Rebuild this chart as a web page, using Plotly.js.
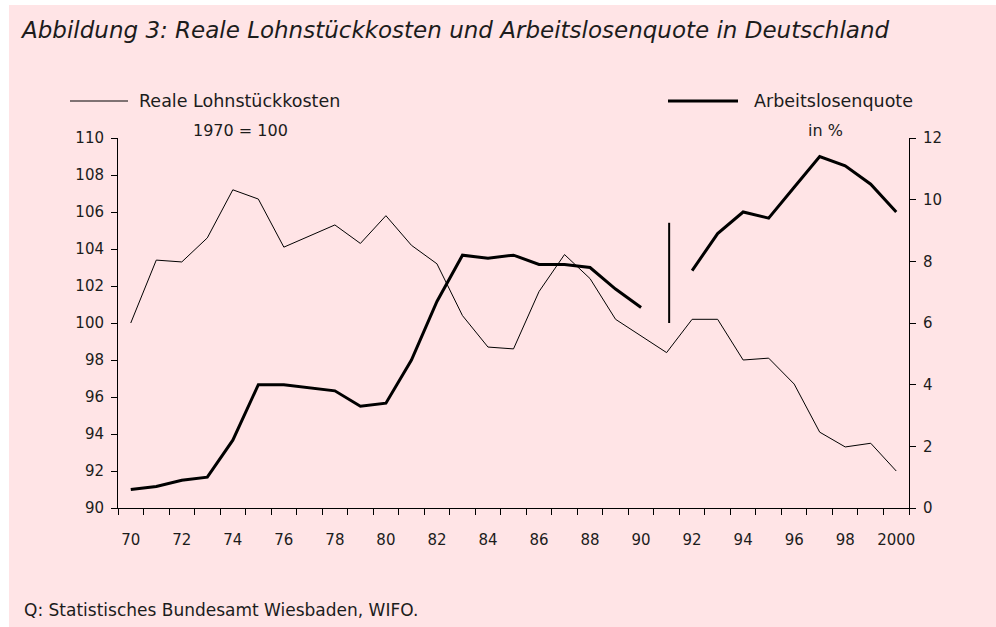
<!DOCTYPE html>
<html>
<head>
<meta charset="utf-8">
<script src="https://cdn.plot.ly/plotly-3.0.1.min.js"></script>
<style>
html,body{margin:0;padding:0;background:#ffffff;width:996px;height:627px;overflow:hidden;}
#chart{position:absolute;left:9px;top:5px;width:987px;height:622px;}
</style>
</head>
<body>
<div id="chart"></div>
<script>
// ---- data ----
const years = [1970,1971,1972,1973,1974,1975,1976,1977,1978,1979,1980,1981,1982,1983,1984,1985,1986,1987,1988,1989,1990,1991,1992,1993,1994,1995,1996,1997,1998,1999,2000];
const lohnstueckkosten = [100,103.4,103.3,104.6,107.2,106.7,104.1,104.7,105.3,104.3,105.8,104.2,103.2,100.4,98.7,98.6,101.7,103.7,102.4,100.2,99.3,98.4,100.2,100.2,98.0,98.1,96.7,94.1,93.3,93.5,92.0];
const arbeitslosenquote = [0.6,0.7,0.9,1.0,2.2,4.0,4.0,3.9,3.8,3.3,3.4,4.8,6.7,8.2,8.1,8.2,7.9,7.9,7.8,7.1,6.5,null,7.7,8.9,9.6,9.4,10.4,11.4,11.1,10.5,9.6];
// break marker (West Germany / unified Germany)
const bruchX = [1991.1,1991.1];
const bruchY = [6.0,9.25];
const xTickVals = [1970,1972,1974,1976,1978,1980,1982,1984,1986,1988,1990,1992,1994,1996,1998,2000];
const xTickText = ["70","72","74","76","78","80","82","84","86","88","90","92","94","96","98","2000"];
const xBoundaries = [1969.5,1970.5,1971.5,1972.5,1973.5,1974.5,1975.5,1976.5,1977.5,1978.5,1979.5,1980.5,1981.5,1982.5,1983.5,1984.5,1985.5,1986.5,1987.5,1988.5,1989.5,1990.5,1991.5,1992.5,1993.5,1994.5,1995.5,1996.5,1997.5,1998.5,1999.5,2000.5];

// ---- layout helpers (page pixels -> paper coords) ----
const L=118, R=909, T=138, B=508;
const px = x => (x-L)/(R-L);
const py = y => (B-y)/(B-T);
const FONT = "DejaVu Sans";
const TXT = "#1c1c1c";
const BG = "#ffe4e6";

const traces = [
  {x: years, y: lohnstueckkosten, type:'scatter', mode:'lines', line:{color:'#000', width:1}, yaxis:'y'},
  {x: years, y: arbeitslosenquote, type:'scatter', mode:'lines', line:{color:'#000', width:3}, yaxis:'y2', connectgaps:false},
  {x: bruchX, y: bruchY, type:'scatter', mode:'lines', line:{color:'#000', width:2}, yaxis:'y2'}
];

const layout = {
  width: 987, height: 622,
  paper_bgcolor: BG, plot_bgcolor: BG,
  showlegend: false,
  margin: {l: L-9, r: 996-R, t: T-5, b: 627-B, pad: 0},
  font: {family: FONT, color: TXT, size: 15},
  title: {
    text: "<i>Abbildung 3: Reale Lohnstückkosten und Arbeitslosenquote in Deutschland</i>",
    font: {family: FONT, size: 23, color: TXT},
    xref: 'container', yref: 'container',
    x: 13/987, xanchor: 'left',
    y: 1-(30-5)/622, yanchor: 'middle'
  },
  xaxis: {
    range: [1969.5, 2000.5],
    tickmode: 'array', tickvals: xTickVals, ticktext: xTickText,
    ticks: 'outside', ticklen: 0, tickcolor:'#000',
    ticklabelstandoff: 18,
    minor: {tickmode:'array', tickvals: xBoundaries, ticklen: 6, tickcolor:'#000', tickwidth:1, showgrid:false},
    showline: true, linecolor: '#000', linewidth: 1,
    showgrid: false, zeroline: false,
    tickfont: {family: FONT, size: 15, color: TXT}
  },
  yaxis: {
    range: [90, 110], dtick: 2, tick0: 90,
    ticks: 'outside', ticklen: 6, tickcolor:'#000',
    ticklabelstandoff: 4,
    showline: true, linecolor:'#000', linewidth: 1,
    showgrid: false, zeroline: false,
    tickfont: {family: FONT, size: 15, color: TXT}
  },
  yaxis2: {
    range: [0, 12], dtick: 2, tick0: 0,
    overlaying: 'y', side: 'right',
    ticks: 'outside', ticklen: 6, tickcolor:'#000',
    ticklabelstandoff: 4,
    showline: true, linecolor:'#000', linewidth: 1,
    showgrid: false, zeroline: false,
    tickfont: {family: FONT, size: 15, color: TXT}
  },
  shapes: [
    {type:'line', xref:'paper', yref:'paper', x0: px(70), x1: px(128), y0: py(101), y1: py(101), line:{color:'#000', width:1}},
    {type:'line', xref:'paper', yref:'paper', x0: px(668), x1: px(738), y0: py(101), y1: py(101), line:{color:'#000', width:3}}
  ],
  annotations: [
    {text:"Reale Lohnstückkosten", xref:'paper', yref:'paper', x: px(137), y: py(101), xanchor:'left', yanchor:'middle', showarrow:false, font:{family:FONT, size:17.5, color:TXT}},
    {text:"1970 = 100", xref:'paper', yref:'paper', x: px(240), y: py(130), xanchor:'center', yanchor:'middle', showarrow:false, font:{family:FONT, size:16, color:TXT}},
    {text:"Arbeitslosenquote", xref:'paper', yref:'paper', x: px(752), y: py(101), xanchor:'left', yanchor:'middle', showarrow:false, font:{family:FONT, size:17.5, color:TXT}},
    {text:"in %", xref:'paper', yref:'paper', x: px(825), y: py(130), xanchor:'center', yanchor:'middle', showarrow:false, font:{family:FONT, size:16, color:TXT}},
    {text:"Q: Statistisches Bundesamt Wiesbaden, WIFO.", xref:'paper', yref:'paper', x: px(22), y: py(610), xanchor:'left', yanchor:'middle', showarrow:false, font:{family:FONT, size:17, color:TXT}}
  ]
};

Plotly.newPlot('chart', traces, layout, {displayModeBar:false, staticPlot:true});
</script>
</body>
</html>
